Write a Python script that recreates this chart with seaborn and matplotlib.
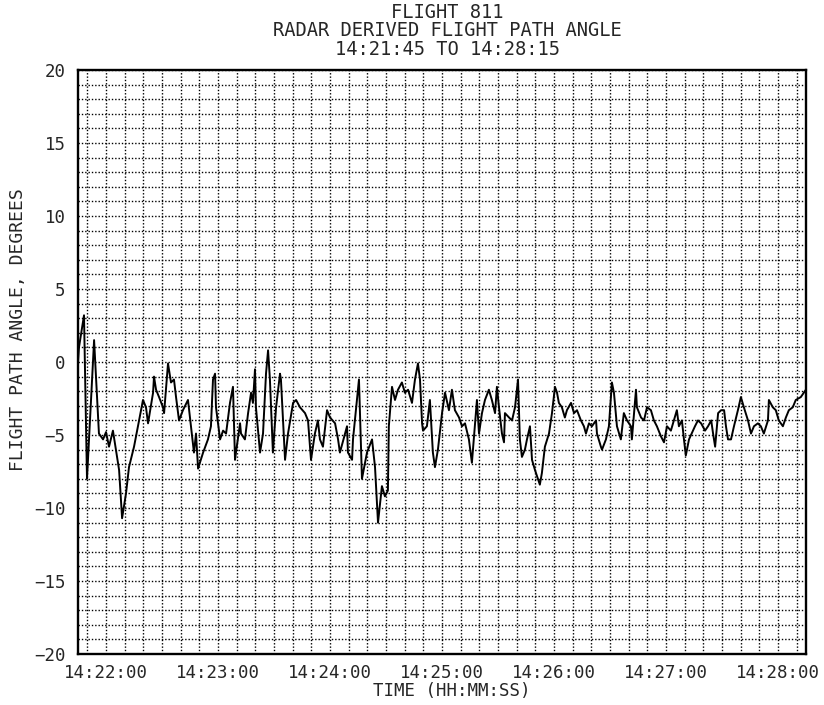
import matplotlib
matplotlib.use("Agg")
import matplotlib.pyplot as plt
import seaborn as sns
import pandas as pd

# seconds after 14:21:45 and flight path angle (deg)
seconds = [
    0.0, 0.5, 3.2, 4.8, 8.6, 11.2, 13.4, 15.0, 16.6, 18.7, 22.0, 23.6, 25.7, 27.3,
    30.0, 32.7, 34.8, 36.4, 37.5, 40.2, 40.7, 41.8, 43.4, 45.5, 46.1, 48.2, 49.8,
    51.4, 52.5, 54.1, 56.2, 58.9, 60.5, 62.1, 63.2, 64.3, 67.0, 69.6, 71.2, 72.3,
    73.4, 73.9, 76.1, 77.7, 79.3, 81.4, 83.0, 84.1, 84.6, 86.8, 87.3, 89.4, 91.1,
    92.7, 93.7, 94.8, 95.3, 97.5, 99.1, 100.7, 101.8, 102.8, 104.4, 106.1, 108.2,
    108.7, 110.9, 112.5, 115.2, 116.8, 118.9, 121.6, 123.2, 124.8, 126.9, 128.5,
    129.6, 131.2, 133.4, 135.0, 137.7, 139.3, 140.3, 144.1, 144.6, 146.8, 147.3,
    149.4, 150.5, 152.1, 154.8, 157.5, 159.1, 160.7, 162.8, 164.4, 166.0, 166.5,
    168.2, 169.8, 171.4, 173.5, 175.1, 176.8, 178.9, 180.5, 182.1, 183.2, 184.3,
    184.8, 186.9, 188.5, 190.1, 191.2, 192.8, 195.0, 196.6, 198.7, 200.3, 201.9,
    204.1, 205.7, 207.3, 209.4, 211.0, 212.6, 213.7, 214.8, 216.4, 218.0, 220.1,
    221.7, 223.4, 224.4, 225.5, 227.1, 228.2, 228.7, 230.9, 232.5, 234.1, 235.7,
    236.7, 237.8, 239.4, 240.5, 242.1, 243.2, 244.8, 247.4, 248.5, 250.1, 252.3,
    253.9, 255.5, 256.6, 257.6, 259.2, 260.8, 261.9, 264.1, 265.7, 267.3, 269.4,
    271.0, 272.1, 273.7, 275.3, 277.5, 278.0, 280.1, 280.7, 282.8, 284.4, 286.0,
    287.1, 288.7, 290.8, 292.4, 294.1, 296.2, 296.7, 298.9, 299.4, 301.6, 303.2,
    304.8, 306.9, 308.5, 310.1, 312.3, 313.9, 315.5, 317.6, 319.2, 320.8, 321.9,
    323.5, 324.6, 325.6, 327.3, 330.5, 332.1, 333.8, 335.9, 337.5, 339.2, 340.2,
    341.3, 342.9, 344.5, 346.1, 347.1, 348.2, 349.8, 351.4, 353.5, 355.1, 356.7,
    358.9, 360.5, 362.1, 364.2, 365.8, 367.4, 369.6, 370.1, 372.2, 373.8, 375.4,
    377.6, 379.2, 380.8, 382.9, 384.5, 387.2, 389.9,
]
angle = [
    0.0, 1.0, 3.2, -8.0, 1.5, -4.9, -5.3, -4.8, -5.8, -4.7, -7.4, -10.7, -9.0, -7.2,
    -5.8, -4.0, -2.6, -3.1, -4.2, -2.1, -1.0, -1.9, -2.4, -3.1, -3.5, -0.1, -1.4,
    -1.2, -2.4, -4.0, -3.3, -2.6, -4.4, -6.2, -4.9, -7.3, -6.2, -5.3, -4.4, -1.2,
    -0.8, -3.1, -5.3, -4.7, -4.9, -2.8, -1.7, -6.7, -6.2, -4.2, -4.9, -5.3, -3.5,
    -2.1, -2.8, -0.5, -3.1, -6.2, -4.9, -0.8, 0.8, -1.2, -6.2, -3.1, -0.8,
    -1.2, -6.7, -4.9, -2.8, -2.6, -3.1, -3.5, -4.0, -6.7, -4.9, -4.0,
    -5.3, -5.8, -3.3, -3.8, -4.2, -5.3, -6.2, -4.4, -6.2, -6.7, -5.3,
    -2.6, -1.2, -8.0, -6.2, -5.3, -7.2, -11.0, -8.5, -9.2, -8.8, -4.4,
    -1.7, -2.6, -1.9, -1.4, -2.1, -1.9, -2.8, -1.2, -0.1, -1.2, -4.2,
    -4.7, -4.4, -2.6, -6.2, -7.2, -6.0, -3.5, -2.1, -3.3, -1.9, -3.3,
    -3.8, -4.4, -4.2, -5.3, -6.9, -4.4, -2.6, -4.9, -3.5, -2.6, -1.9,
    -2.6, -3.5, -1.7, -3.1, -4.9, -5.5, -3.5, -3.8, -4.0, -3.1, -1.2,
    -5.3, -6.5, -6.0, -5.3, -4.4, -6.7, -7.4, -8.4, -7.6, -5.8, -4.9,
    -3.5, -1.7, -2.1, -2.8, -3.1, -3.8, -3.3, -2.8, -3.5, -3.3, -4.0,
    -4.4, -4.9, -4.2, -4.4, -4.0, -4.9, -5.8, -6.0, -5.3, -4.4, -1.4,
    -2.1, -4.4, -5.3, -3.5, -4.0, -4.4, -5.3, -1.9, -3.1, -3.8, -4.0,
    -3.1, -3.3, -4.0, -4.4, -5.1, -5.5, -4.4, -4.7, -4.0, -3.3, -4.4,
    -4.0, -5.3, -6.4, -5.3, -4.4, -4.0, -4.2, -4.7, -4.4, -4.0, -4.9,
    -5.8, -3.5, -3.3, -3.3, -4.4, -5.3, -5.3, -4.4, -3.3, -2.4, -3.1,
    -4.0, -4.9, -4.4, -4.2, -4.4, -4.9, -4.0, -2.6, -3.1, -3.3, -4.0,
    -4.4, -3.8, -3.3, -3.1, -2.6, -2.4, -1.9,
]

tick_seconds = [15, 75, 135, 195, 255, 315, 375]
tick_labels = ["14:22:00", "14:23:00", "14:24:00", "14:25:00",
               "14:26:00", "14:27:00", "14:28:00"]
title = "FLIGHT 811\nRADAR DERIVED FLIGHT PATH ANGLE\n14:21:45 TO 14:28:15"

df = pd.DataFrame({"t": seconds, "angle": angle})

sns.set_style("white")
plt.rcParams["font.family"] = ["DejaVu Sans Mono"]

fig = plt.figure(figsize=(8.24, 7.05), dpi=100)
ax = fig.add_axes([0.0947, 0.0723, 0.8835, 0.8284])

sns.lineplot(data=df, x="t", y="angle", color="black", linewidth=1.4, ax=ax)

ax.set_xlim(0, 390)
ax.set_ylim(-20, 20)
ax.set_xticks(tick_seconds)
ax.set_xticklabels(tick_labels)
ax.set_xticks(range(5, 390, 10), minor=True)
ax.set_yticks(range(-20, 21, 5))
ax.set_yticks(range(-20, 21, 1), minor=True)

ax.grid(which="both", color="black", linestyle=(0, (1, 1.4)), linewidth=1.0)
ax.tick_params(axis="y", which="major", direction="in", length=11,
               width=1.5, color="black", labelsize=12.5, pad=9)
ax.tick_params(axis="x", which="major", direction="in", length=0,
               labelsize=12.5, pad=7)
ax.tick_params(axis="both", which="minor", length=0)
for s in ax.spines.values():
    s.set_color("black")
    s.set_linewidth(1.7)

ax.set_xlabel("TIME (HH:MM:SS)", fontsize=12.5)
ax.xaxis.set_label_coords(0.514, -0.048)
ax.set_ylabel("")
fig.text(18 / 824, 1 - 330 / 705, "FLIGHT PATH ANGLE, DEGREES", fontsize=13,
         rotation=90, ha="center", va="center")

fig.text(0.5425, 1 - 31 / 705, title, fontsize=13.5, linespacing=0.94,
         ha="center", va="center")

fig.savefig("out.png", dpi=100)
